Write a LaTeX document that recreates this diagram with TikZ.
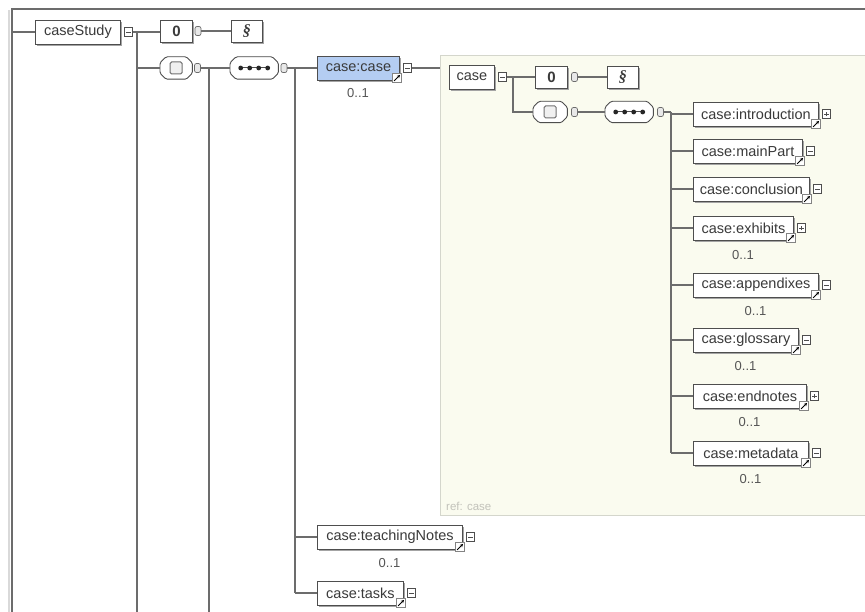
\documentclass[tikz,border=0pt]{standalone}
\usepackage{fontspec}
\setmainfont{Liberation Sans}
\newfontfamily\glyphserif{Liberation Serif}
\usetikzlibrary{shadows,arrows.meta}
\definecolor{bord}{HTML}{4E4E4E}
\definecolor{txt}{HTML}{3A3A3A}
\definecolor{shad}{HTML}{A4A4A4}
\definecolor{wire}{HTML}{6C6C6C}
\definecolor{selblue}{HTML}{B4CDF2}
\definecolor{reffill}{HTML}{FAFBEF}
\definecolor{refbord}{HTML}{D4D6CC}
\definecolor{reftxt}{HTML}{C2C2BA}
\definecolor{occtxt}{HTML}{555555}
\newcommand\elfont{\fontsize{14.5}{16}\selectfont}
\newcommand\child[5]{%
  \node[elem, minimum width=#2-693] (#1) at (693,#3) {case:#4};
  \node[reficon] (#1r) at (#2-2,#3+10) {};
  \node[#5] (#1x) at (#2+8.5,#3) {};
  \coordinate (#1j) at (671,#3);
  \draw[wire] (#1j) -- (#1);
}
% octagonal compositor: name, left x, centre y, width, height
\newcommand\octa[5]{%
  \node[anchor=west, minimum width=#4, minimum height=#5, inner sep=0] (#1) at (#2,#3) {};
  \fill[shad, rounded corners=1.5pt, shift={(1.5pt,-1.5pt)}]
    ([xshift=6pt]#1.north west) -- ([xshift=-6pt]#1.north east) -- ([yshift=-6pt]#1.north east) --
    ([yshift=6pt]#1.south east) -- ([xshift=-6pt]#1.south east) -- ([xshift=6pt]#1.south west) --
    ([yshift=6pt]#1.south west) -- ([yshift=-6pt]#1.north west) -- cycle;
  \draw[draw=bord, fill=white, line width=0.9, rounded corners=1.5pt]
    ([xshift=6pt]#1.north west) -- ([xshift=-6pt]#1.north east) -- ([yshift=-6pt]#1.north east) --
    ([yshift=6pt]#1.south east) -- ([xshift=-6pt]#1.south east) -- ([xshift=6pt]#1.south west) --
    ([yshift=6pt]#1.south west) -- ([yshift=-6pt]#1.north west) -- cycle;
}
\begin{document}
\begin{tikzpicture}[x=1pt,y=-1pt,
  wire/.style={draw=wire, line width=1.1},
  elem/.style={draw=bord, fill=white, anchor=west, minimum height=24, inner sep=0,
    font=\elfont, text=txt, line width=0.9,
    general shadow={fill=shad, shadow xshift=1.6pt, shadow yshift=-1.6pt}},
  sel/.style={fill=selblue},
  attbox/.style={draw=bord, fill=white, anchor=west, minimum height=22, inner sep=0,
    line width=0.9, text=txt, general shadow={fill=shad, shadow xshift=1.6pt, shadow yshift=-1.6pt}},
  chsq/.style={draw=bord!80, fill=gray!12, minimum size=12, inner sep=0, rounded corners=1.5pt, line width=1},
  stub/.style={draw=wire, fill=gray!18, minimum width=6, minimum height=9, inner sep=0,
    rounded corners=2pt, line width=0.7},
  icominus/.style={draw=bord, fill=white, minimum size=8.5, inner sep=0, line width=0.7,
    path picture={\draw[bord, line width=0.8] ([xshift=1.8pt]path picture bounding box.west) --
      ([xshift=-1.8pt]path picture bounding box.east);}},
  icoplus/.style={draw=bord, fill=white, minimum size=8.5, inner sep=0, line width=0.7,
    path picture={\draw[bord, line width=0.8] ([xshift=1.8pt]path picture bounding box.west) --
      ([xshift=-1.8pt]path picture bounding box.east)
      ([yshift=1.8pt]path picture bounding box.south) -- ([yshift=-1.8pt]path picture bounding box.north);}},
  reficon/.style={draw=bord!70, fill=white, minimum size=9, inner sep=0, line width=0.6,
    path picture={\draw[black, line width=0.9, -{Stealth[length=3.2pt,width=3.2pt]}]
      ([shift={(1.6pt,1.6pt)}]path picture bounding box.south west) --
      ([shift={(-1.4pt,-1.4pt)}]path picture bounding box.north east);}},
  occ/.style={font=\fontsize{13}{15}\selectfont, text=occtxt, inner sep=0},
  refframe/.style={draw=refbord, fill=reffill, line width=1, anchor=north west, inner sep=0},
  reflabel/.style={font=\fontsize{11.5}{13}\selectfont, text=reftxt, anchor=west, inner sep=0}
]
\useasboundingbox (0,0) rectangle (865,612);
\fill[white] (0,0) rectangle (865,612);
% outer frame
\coordinate (fbl) at (12,612); \coordinate (ftl) at (12,9); \coordinate (ftr) at (865,9);
\coordinate (fbl2) at (8.5,612); \coordinate (ftl2) at (8.5,10);
\draw[gray!30, line width=2] (fbl2) -- (ftl2);
\draw[wire] (fbl) -- (ftl) -- (ftr);

% ---------- caseStudy ----------
\node[elem, minimum width=85] (cs) at (35,32) {caseStudy};
\node[icominus] (csx) at (128.5,32) {};
\coordinate (lin) at (12,32);
\draw[wire] (lin) -- (cs);
\node[attbox, minimum width=32] (att1) at (160,31) {\fontsize{15}{16}\selectfont\bfseries 0};
\draw[wire] (csx) -- (csx -| att1.west);
\node[stub] (att1s) at (198,31) {};
\node[attbox, minimum width=31] (sb1) at (231,31) {\glyphserif\itshape\fontsize{16}{16}\selectfont\bfseries §};
\draw[wire] (att1s) -- (sb1);

\coordinate (v1t) at (137,32); \coordinate (v1b) at (137,612);
\draw[wire] (v1t) -- (v1b);
\octa{ch1}{160}{68}{32}{22}
\node[chsq] (ch1q) at (ch1.center) {};
\coordinate (v1c) at (137,68);
\draw[wire] (v1c) -- (ch1);
\node[stub] (ch1s) at (197.5,68) {};
\octa{sq1}{230}{68}{48}{22}
\draw[wire] (ch1s) -- (sq1);
\coordinate (v2t) at (209,68); \coordinate (v2b) at (209,612);
\draw[wire] (v2t) -- (v2b);
\draw[bord, line width=1] ([xshift=-15pt]sq1.center) -- ([xshift=15pt]sq1.center);
\foreach \dx in {-13.5,-4.5,4.5,13.5}{\fill[black!85] ([xshift=\dx pt]sq1.center) circle (2.4pt);}
\node[stub] (sq1s) at (284,68) {};
\coordinate (v3t) at (295,68); \coordinate (v3b) at (295,593);
\draw[wire] (v3t) -- (v3b);

% ---------- ref box ----------
\node[refframe, minimum width=432, minimum height=460] (ref) at (440,55) {};
\node[reflabel] (reflab) at (446,506) {ref: case};

% ---------- case:case ----------
\node[elem, sel, minimum width=82] (cc) at (317,68) {case:case};
\draw[wire] (sq1s) -- (cc);
\node[reficon] (ccr) at (397,78) {};
\node[icominus] (ccx) at (407.5,68) {};
\draw[wire] (ccx) -- (ccx -| ref.west);
\node[occ] (cco) at (358,93) {0..1};

% ---------- inside ref ----------
\node[elem, minimum width=45] (cb) at (449,77) {case};
\node[icominus] (cbx) at (502.5,77) {};
\node[attbox, minimum width=32] (att2) at (535,77) {\fontsize{15}{16}\selectfont\bfseries 0};
\draw[wire] (cbx) -- (att2);
\node[stub] (att2s) at (574.5,77) {};
\node[attbox, minimum width=31] (sb2) at (607,77) {\glyphserif\itshape\fontsize{16}{16}\selectfont\bfseries §};
\draw[wire] (att2s) -- (sb2);
\octa{ch2}{533}{112}{34}{21}
\node[chsq] (ch2q) at (ch2.center) {};
\coordinate (j2) at (513,77);
\draw[wire] (j2) |- (ch2);
\node[stub] (ch2s) at (574.5,112) {};
\octa{sq2}{605}{112}{48}{21}
\draw[wire] (ch2s) -- (sq2);
\draw[bord, line width=1] ([xshift=-15pt]sq2.center) -- ([xshift=15pt]sq2.center);
\foreach \dx in {-13.5,-4.5,4.5,13.5}{\fill[black!85] ([xshift=\dx pt]sq2.center) circle (2.4pt);}
\node[stub] (sq2s) at (660.5,112) {};
\coordinate (v4t) at (671,112); \coordinate (v4b) at (671,453);
\draw[wire] (sq2s) -- (v4t);
\draw[wire] (v4t) -- (v4b);

\child{intro}{818}{114}{introduction}{icoplus}
\child{mainp}{802}{151}{mainPart}{icominus}
\child{concl}{809}{189}{conclusion}{icominus}
\child{exhib}{793}{228}{exhibits}{icoplus}
\node[occ] (exhibo) at (743,255) {0..1};
\child{appen}{818}{285}{appendixes}{icominus}
\node[occ] (appeno) at (755.5,311) {0..1};
\child{gloss}{798}{340}{glossary}{icominus}
\node[occ] (glosso) at (745.5,366) {0..1};
\child{endn}{806}{396}{endnotes}{icoplus}
\node[occ] (endno) at (749.5,422) {0..1};
\child{meta}{808}{453}{metadata}{icominus}
\node[occ] (metao) at (750.5,479) {0..1};

% ---------- teachingNotes / tasks ----------
\node[elem, minimum width=145] (tn) at (317,537) {case:teachingNotes};
\node[reficon] (tnr) at (460,547) {};
\node[icominus] (tnx) at (470.5,537) {};
\coordinate (tnj) at (295,537);
\draw[wire] (tnj) -- (tn);
\node[occ] (tno) at (389.5,563) {0..1};
\node[elem, minimum width=86] (tk) at (317,593) {case:tasks};
\node[reficon] (tkr) at (401,603) {};
\node[icominus] (tkx) at (411.5,593) {};
\coordinate (tkj) at (295,593);
\draw[wire] (tkj) -- (tk);
\end{tikzpicture}
\end{document}
